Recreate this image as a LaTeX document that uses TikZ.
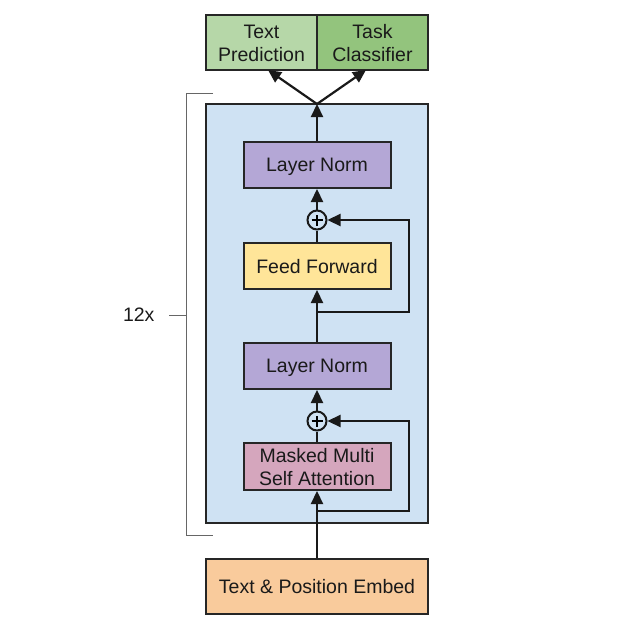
\documentclass[tikz,border=0pt]{standalone}
\usepackage{fontspec}
\setmainfont{Liberation Sans}
\usetikzlibrary{arrows.meta,positioning}
\definecolor{cblue}{HTML}{CFE2F3}
\definecolor{cgreenA}{HTML}{B6D7A8}
\definecolor{cgreenB}{HTML}{93C47D}
\definecolor{cpurple}{HTML}{B4A7D6}
\definecolor{cyellow}{HTML}{FFE599}
\definecolor{cpink}{HTML}{D5A6BD}
\definecolor{corange}{HTML}{F9CB9C}
\definecolor{ctext}{HTML}{1A1A1A}
\tikzset{
  blk/.style={draw=black!85, line width=2pt, rectangle, inner sep=0pt, align=center,
     font=\fontsize{19.5}{23}\selectfont, text=ctext, text depth=0pt},
  twoline/.style={text height=37pt, text depth=0pt},
  conn/.style={line width=2.2pt, draw=black!90},
  arr/.style={conn, -{Triangle[length=13pt,width=12pt]}},
  plusnode/.style={draw=black!90, line width=2pt, circle, minimum size=19pt, inner sep=0pt, fill=cblue},
  brk/.style={line width=1pt, draw=black!60}
}
\begin{document}
\begin{tikzpicture}[x=1pt,y=-1pt]
\useasboundingbox (0,0) rectangle (632,637);
% big blue box
\node[blk, fill=cblue, minimum width=222pt, minimum height=419pt] (main) at (317,313.5) {};
% bracket
\coordinate (bt) at (213,93);
\coordinate (bb) at (213,535);
\coordinate (bm) at (186,315);
\draw[brk] (bt) -- (186,93) -- (186,535) -- (bb);
\draw[brk] (bm) -- (169,315);
\node[font=\fontsize{19.5}{23}\selectfont, text=ctext, text depth=0pt, anchor=east] (rep) at (158,315) {12x};
% top boxes
\node[blk, twoline, fill=cgreenA, minimum width=111pt, minimum height=55pt] (tp) at (261.5,42.5) {Text\\Prediction};
\node[blk, twoline, fill=cgreenB, minimum width=111pt, minimum height=55pt] (tc) at (372.5,42.5) {Task\\Classifier};
% inner blocks
\node[blk, fill=cpurple, minimum width=147pt, minimum height=46pt] (ln2) at (317,165) {Layer Norm};
\node[plusnode] (p2) at (317,220) {};
\node[blk, fill=cyellow, minimum width=147pt, minimum height=46pt] (ff) at (317,266) {Feed Forward};
\node[blk, fill=cpurple, minimum width=147pt, minimum height=46pt] (ln1) at (317,366) {Layer Norm};
\node[plusnode] (p1) at (317,421) {};
\node[blk, twoline, fill=cpink, minimum width=147pt, minimum height=47pt] (att) at (317,466.5) {Masked Multi\\Self Attention};
\node[blk, fill=corange, minimum width=222pt, minimum height=55pt] (emb) at (317,586.5) {Text \& Position Embed};
% plus signs
\foreach \p in {p1,p2}{
  \draw[line width=1.8pt] ([xshift=-5.5pt]\p.center) -- ([xshift=5.5pt]\p.center);
  \draw[line width=1.8pt] ([yshift=-5.5pt]\p.center) -- ([yshift=5.5pt]\p.center);
}
% coordinates
\coordinate (mtop) at (317,104);
\coordinate (tpin) at (268,70);
\coordinate (tcin) at (366,70);
\coordinate (b2) at (317,312);
\coordinate (b1) at (317,511);
\coordinate (r2a) at (409,312);
\coordinate (r2b) at (409,220);
\coordinate (r1a) at (409,511);
\coordinate (r1b) at (409,421);
% connectors
\draw[arr] (emb.north) -- (att.south);
\draw[conn] (att.north) -- (p1.south);
\draw[arr] (p1.north) -- (ln1.south);
\draw[arr] (ln1.north) -- (ff.south);
\draw[conn] (ff.north) -- (p2.south);
\draw[arr] (p2.north) -- (ln2.south);
\draw[arr] (ln2.north) -- (mtop);
\draw[arr] (mtop) -- (tpin);
\draw[arr] (mtop) -- (tcin);
\draw[arr] (b1) -- (r1a) -- (r1b) -- (p1.east);
\draw[arr] (b2) -- (r2a) -- (r2b) -- (p2.east);
\end{tikzpicture}
\end{document}
